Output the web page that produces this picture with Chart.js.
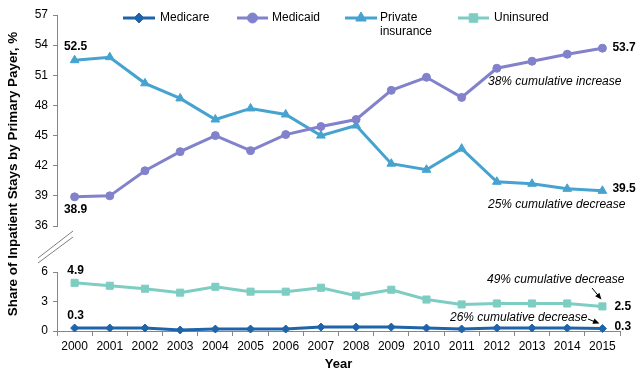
<!DOCTYPE html>
<html>
<head>
<meta charset="utf-8">
<script src="https://cdn.jsdelivr.net/npm/chart.js@4/dist/chart.umd.min.js"></script>
<style>
    body { margin: 0; background: #fff; }
    #wrap { width: 639px; height: 374px; position: relative; }
</style>
</head>
<body>
<div id="wrap"><canvas id="payerChart"></canvas></div>
<script>
// Chart data
const years = ["2000", "2001", "2002", "2003", "2004", "2005", "2006", "2007",
               "2008", "2009", "2010", "2011", "2012", "2013", "2014", "2015"];
const medicare = [0.3, 0.3, 0.3, 0.1, 0.2, 0.2, 0.2, 0.4, 0.4, 0.4, 0.3, 0.2, 0.3, 0.3, 0.3, 0.25];
const medicaid = [38.9, 39.0, 41.5, 43.4, 45.0, 43.5, 45.1, 45.9, 46.6, 49.5, 50.8, 48.8, 51.7, 52.4, 53.1, 53.7];
const privateIns = [52.5, 52.8, 50.2, 48.7, 46.6, 47.7, 47.1, 45.0, 46.0, 42.2, 41.6, 43.7, 40.4, 40.2, 39.7, 39.5];
const uninsured = [4.9, 4.6, 4.3, 3.9, 4.5, 4.0, 4.0, 4.4, 3.6, 4.2, 3.2, 2.7, 2.8, 2.8, 2.8, 2.5];

// Axis ranges for the broken y axis
const upperTicks = [36, 57, 3];
const lowerTicks = [0, 6, 3];

const FONT = "'Liberation Sans', Arial, sans-serif";

const colors = {
    Medicare: "#1f64a8",
    Medicaid: "#8282cc",
    Private: "#46a3cf",
    Uninsured: "#7ecdc3"
};

// Legend entries drawn on the canvas (line + marker, like Excel)
const legendItems = [
    { ds: 0, x1: 123, x2: 155, tx: 160, lines: ["Medicare"] },
    { ds: 1, x1: 237, x2: 268, tx: 272, lines: ["Medicaid"] },
    { ds: 2, x1: 345, x2: 377, tx: 380, lines: ["Private", "insurance"] },
    { ds: 3, x1: 458, x2: 489, tx: 494, lines: ["Uninsured"] }
];

// Text notes placed next to the data points
const notes = [
    { text: "38% cumulative increase", x: 488, y: 82 },
    { text: "25% cumulative decrease", x: 488, y: 205 },
    { text: "49% cumulative decrease", x: 487, y: 280 },
    { text: "26% cumulative decrease", x: 450, y: 318 }
];

function drawArrow(ctx, x1, y1, x2, y2) {
    const ang = Math.atan2(y2 - y1, x2 - x1);
    ctx.save();
    ctx.strokeStyle = "#000";
    ctx.fillStyle = "#000";
    ctx.lineWidth = 1;
    ctx.beginPath();
    ctx.moveTo(x1, y1);
    ctx.lineTo(x2 - 5 * Math.cos(ang), y2 - 5 * Math.sin(ang));
    ctx.stroke();
    ctx.beginPath();
    ctx.moveTo(x2, y2);
    ctx.lineTo(x2 - 7 * Math.cos(ang - 0.4), y2 - 7 * Math.sin(ang - 0.4));
    ctx.lineTo(x2 - 7 * Math.cos(ang + 0.4), y2 - 7 * Math.sin(ang + 0.4));
    ctx.closePath();
    ctx.fill();
    ctx.restore();
}

const extrasPlugin = {
    id: "extras",
    afterDraw(chart) {
        const ctx = chart.ctx;
        const area = chart.chartArea;
        const pt = (ds, i) => chart.getDatasetMeta(ds).data[i];
        const last = years.length - 1;

        ctx.save();

        // y axis title spanning both parts of the axis
        ctx.save();
        ctx.translate(13, 174);
        ctx.rotate(-Math.PI / 2);
        ctx.font = "bold 13.4px " + FONT;
        ctx.fillStyle = "#000";
        ctx.textAlign = "center";
        ctx.textBaseline = "middle";
        ctx.fillText("Share of Inpatient Stays by Primary Payer, %", 0, 0);
        ctx.restore();

        // axis break marks
        const yTop = chart.scales.yTop.bottom;
        ctx.strokeStyle = "#7f7f7f";
        ctx.lineWidth = 1;
        ctx.beginPath();
        ctx.moveTo(area.left - 19, yTop + 32);
        ctx.lineTo(area.left + 16, yTop + 5);
        ctx.moveTo(area.left - 19, yTop + 37);
        ctx.lineTo(area.left + 16, yTop + 11);
        ctx.stroke();

        // start / end value labels
        ctx.font = "bold 12px " + FONT;
        ctx.fillStyle = "#000";
        ctx.textBaseline = "middle";
        ctx.textAlign = "center";
        ctx.fillText(privateIns[0].toFixed(1), pt(2, 0).x + 1, pt(2, 0).y - 14);
        ctx.fillText(medicaid[0].toFixed(1), pt(1, 0).x + 1, pt(1, 0).y + 13);
        ctx.fillText(uninsured[0].toFixed(1), pt(3, 0).x + 1, pt(3, 0).y - 12);
        ctx.fillText(medicare[0].toFixed(1), pt(0, 0).x + 1, pt(0, 0).y - 12);
        ctx.textAlign = "left";
        ctx.fillText(medicaid[last].toFixed(1), pt(1, last).x + 10, pt(1, last).y);
        ctx.fillText(privateIns[last].toFixed(1), pt(2, last).x + 10, pt(2, last).y - 2);
        ctx.fillText(uninsured[last].toFixed(1), pt(3, last).x + 12, pt(3, last).y);
        ctx.fillText(medicare[last].toFixed(1), pt(0, last).x + 12, pt(0, last).y - 2);

        // italic notes and arrows
        ctx.font = "italic 12px " + FONT;
        notes.forEach(n => ctx.fillText(n.text, n.x, n.y));
        drawArrow(ctx, 592, 288, pt(3, last).x - 1, pt(3, last).y - 7);
        drawArrow(ctx, 588, 319, pt(0, last).x - 3, pt(0, last).y - 5);

        // legend
        legendItems.forEach(item => {
            const ds = chart.data.datasets[item.ds];
            const y = 18;
            ctx.strokeStyle = ds.borderColor;
            ctx.fillStyle = ds.borderColor;
            ctx.lineWidth = 3;
            ctx.beginPath();
            ctx.moveTo(item.x1, y);
            ctx.lineTo(item.x2, y);
            ctx.stroke();
            ctx.lineWidth = 1;
            Chart.helpers.drawPoint(ctx, {
                pointStyle: ds.pointStyle,
                radius: ds.pointRadius + 1,
                rotation: 0,
                borderWidth: 1
            }, (item.x1 + item.x2) / 2, y);
            ctx.font = "12px " + FONT;
            ctx.fillStyle = "#000";
            ctx.textAlign = "left";
            item.lines.forEach((line, k) => ctx.fillText(line, item.tx, y + k * 14));
        });

        ctx.restore();
    }
};

function makeDataset(label, data, color, axis, style, radius) {
    return {
        label: label,
        data: data,
        yAxisID: axis,
        borderColor: color,
        backgroundColor: color,
        borderWidth: 3,
        pointStyle: style,
        pointRadius: radius,
        pointBorderWidth: 1,
        tension: 0,
        clip: false
    };
}

// left y axes share the same width so the stacked parts line up
const fixWidth = scale => { scale.width = 57; };

const tickFont = { family: FONT, size: 12 };

// stacked axes are placed bottom-up, so the lower part is listed first
new Chart(document.getElementById("payerChart").getContext("2d"), {
    type: "line",
    data: {
        labels: years,
        datasets: [
            makeDataset("Medicare", medicare, colors.Medicare, "yLow", "rectRot", 4),
            makeDataset("Medicaid", medicaid, colors.Medicaid, "yTop", "circle", 4),
            makeDataset("Private insurance", privateIns, colors.Private, "yTop", "triangle", 5),
            makeDataset("Uninsured", uninsured, colors.Uninsured, "yLow", "rect", 5)
        ]
    },
    options: {
        responsive: true,
        maintainAspectRatio: false,
        animation: false,
        layout: { padding: { left: 0, right: 19, top: 15, bottom: 0 } },
        scales: {
            x: {
                offset: true,
                grid: { offset: true, drawOnChartArea: false, tickLength: 5, color: "#868686" },
                border: { color: "#868686" },
                ticks: { font: tickFont, color: "#000", padding: 3, maxRotation: 0, autoSkip: false },
                title: { display: true, text: "Year", font: { family: FONT, size: 13, weight: "bold" }, color: "#000", padding: { top: 0, bottom: 2 } },
                afterFit: scale => { scale.height = 43; }
            },
            yLow: {
                type: "linear",
                position: "left",
                stack: "payer",
                stackWeight: 59,
                min: lowerTicks[0],
                max: lowerTicks[1],
                grid: { drawOnChartArea: false, tickLength: 4, color: "#868686" },
                border: { color: "#868686" },
                ticks: { stepSize: lowerTicks[2], autoSkip: false, font: tickFont, color: "#000", padding: 5 },
                afterFit: fixWidth
            },
            yGap: {
                type: "linear",
                position: "left",
                stack: "payer",
                stackWeight: 46,
                min: 0,
                max: 1,
                grid: { display: false },
                border: { display: false },
                ticks: { display: false },
                afterFit: fixWidth
            },
            yTop: {
                type: "linear",
                position: "left",
                stack: "payer",
                stackWeight: 211,
                min: upperTicks[0],
                max: upperTicks[1],
                grid: { drawOnChartArea: false, tickLength: 4, color: "#868686" },
                border: { color: "#868686" },
                ticks: { stepSize: upperTicks[2], autoSkip: false, font: tickFont, color: "#000", padding: 5 },
                afterFit: fixWidth
            }
        },
        plugins: {
            legend: { display: false },
            tooltip: { enabled: false }
        }
    },
    plugins: [extrasPlugin]
});
</script>
</body>
</html>
